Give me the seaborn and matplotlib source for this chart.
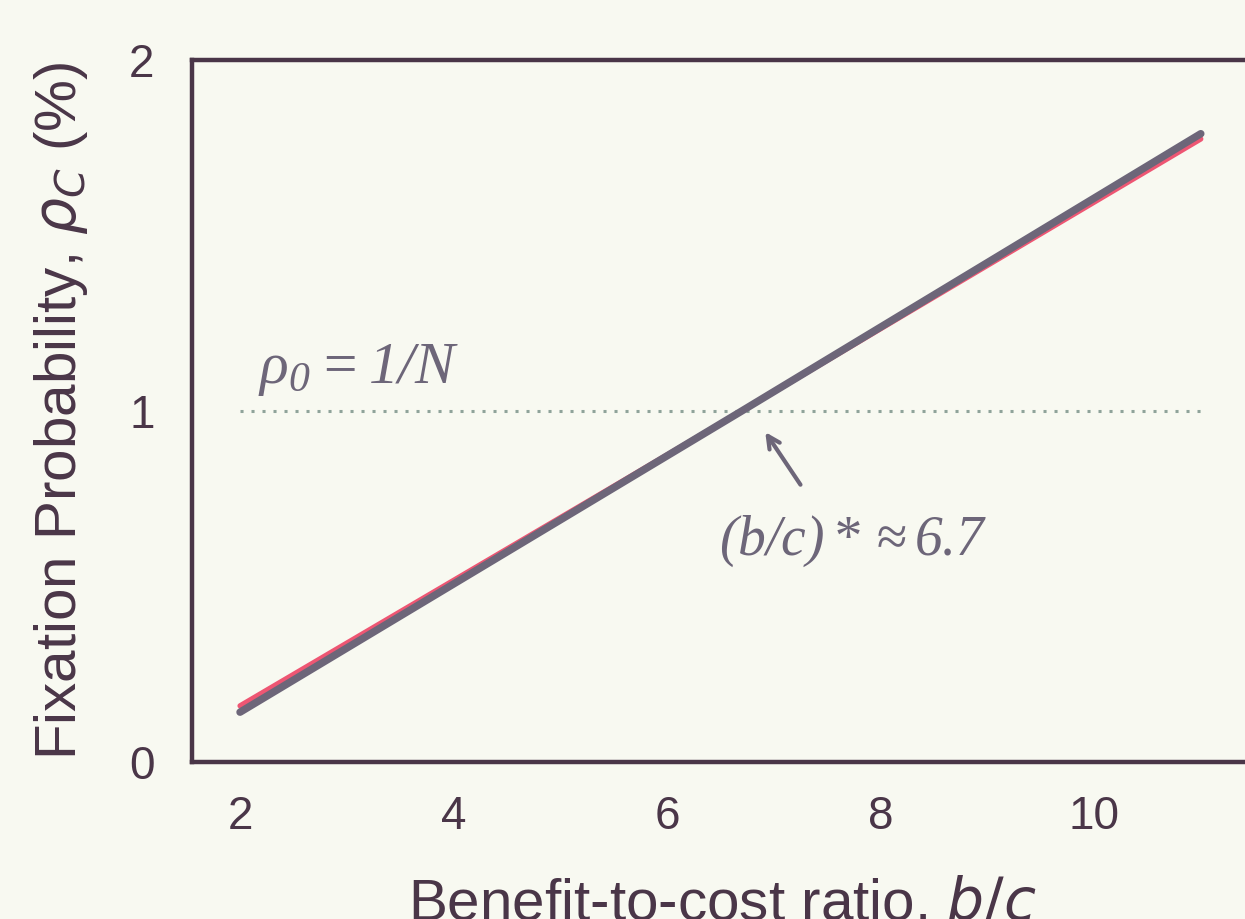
import matplotlib
matplotlib.use("Agg")
import matplotlib.pyplot as plt
import seaborn as sns
import pandas as pd

# data
bc_ratio = [2.0, 6.7, 11.0]
rho_red = [0.160, 1.000, 1.775]
rho_gray = [0.142, 1.000, 1.790]
x_ticks = [2, 4, 6, 8, 10]
y_ticks = [0, 1, 2]
neutral_level = 1.0
critical_bc = 6.7

BG = "#f8f9f1"
DARK = "#4a3648"
GRAY = "#6d6679"
RED = "#ee5673"
DOT = "#8fa39a"

sns.set_theme(style="white")
plt.rcParams["font.family"] = ["Liberation Sans", "DejaVu Sans"]
plt.rcParams["mathtext.fontset"] = "custom"
plt.rcParams["mathtext.rm"] = "Liberation Serif:italic"
plt.rcParams["mathtext.it"] = "Liberation Serif:italic"

AX_W = 10.45 * 106.75
fig = plt.figure(figsize=(12.45, 9.19), dpi=100, facecolor=BG)
ax = fig.add_axes([192/1245, 157/919, AX_W/1245, 702/919])
ax.set_facecolor(BG)

df = pd.concat([
    pd.DataFrame({"bc": bc_ratio, "rho": rho_red, "s": "red"}),
    pd.DataFrame({"bc": bc_ratio, "rho": rho_gray, "s": "gray"}),
])
sns.lineplot(data=df[df.s == "red"], x="bc", y="rho", color=RED, lw=3.8,
             solid_capstyle="round", ax=ax, legend=False)
sns.lineplot(data=df[df.s == "gray"], x="bc", y="rho", color=GRAY, lw=5.4,
             solid_capstyle="round", ax=ax, legend=False)

ax.plot([bc_ratio[0], bc_ratio[-1]], [neutral_level, neutral_level],
        linestyle=(0, (1, 2.6)), color=DOT, lw=2.2, zorder=1)

ax.set_xlim(1.55, 12.0)
ax.set_ylim(0, 2)
ax.set_xticks(x_ticks)
ax.set_yticks(y_ticks)
ax.tick_params(axis="both", length=0, labelsize=33, colors=DARK)
ax.tick_params(axis="y", pad=27)
ax.tick_params(axis="x", pad=24)
for sp in ["left", "top", "bottom", "right"]:
    ax.spines[sp].set_color(DARK)
    ax.spines[sp].set_linewidth(3.2)

ax.set_ylabel(r"Fixation Probability, $\rho_C$ (%)", fontsize=42, color=DARK,
              math_fontfamily="dejavusans")
ax.yaxis.set_label_coords((90 - 192) / AX_W, 0.5)
ax.set_xlabel(r"Benefit-to-cost ratio, $b/c$", fontsize=42, color=DARK,
              math_fontfamily="dejavusans")
ax.xaxis.set_label_coords((722 - 192) / AX_W, -0.162)

ax.text(2.17, 1.08, r"$\rho_0 = 1/N$", fontsize=43, color=GRAY,
        ha="left", va="baseline")
ax.annotate("", xy=(6.92, 0.94), xytext=(7.25, 0.79),
            arrowprops=dict(arrowstyle="->", color=GRAY, lw=3,
                            shrinkA=0, shrinkB=0, mutation_scale=22))
ax.text(7.74, 0.63, r"$(b/c)* \approx 6.7$", fontsize=40, color=GRAY,
        ha="center", va="center")

fig.savefig("out.png", dpi=100, facecolor=BG)
